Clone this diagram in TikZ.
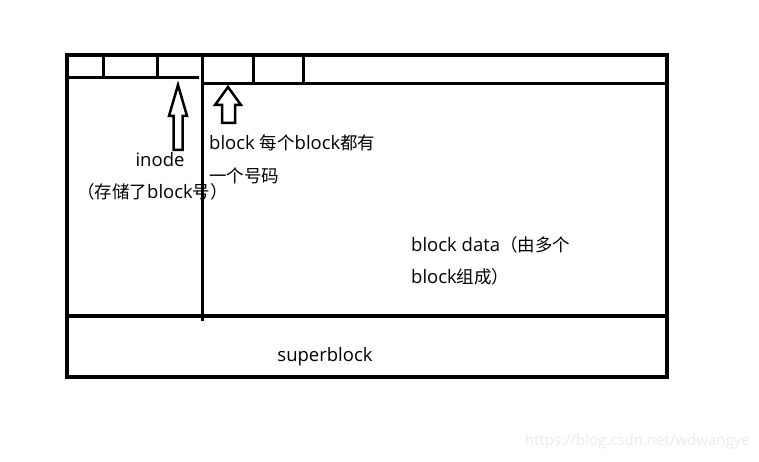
\documentclass[tikz,border=0pt]{standalone}
\usepackage{fontspec}
\setmainfont{Open Sans}
\newfontfamily\cjk{Noto Sans CJK SC}
\newcommand{\zh}[1]{{\cjk\fontsize{17.5}{20}\selectfont #1}}
\begin{document}
\begin{tikzpicture}[x=1pt,y=-1pt,
  outer/.style={line width=4pt},
  inner/.style={line width=3pt},
  hollow/.style={line width=2.5pt,line join=miter},
  lbl/.style={font=\fontsize{18.5}{20}\selectfont,inner sep=0pt,anchor=west}]
\useasboundingbox (0,0) rectangle (759,462);
% outer frame
\draw[outer] (67,55) rectangle (667,377);
\draw[outer] (67,316) -- (667,316);
% inode area
\draw[inner] (67,78) -- (199,78);
\draw[inner] (103,55) -- (103,78);
\draw[inner] (157,55) -- (157,78);
\draw[inner] (202,55) -- (202,321);
% block strip
\draw[inner] (202,84) -- (667,84);
\draw[inner] (253,55) -- (253,84);
\draw[inner] (303,55) -- (303,84);
% hollow arrows
\draw[hollow] (178,85) -- (187,116) -- (182.5,116) -- (182.5,150) -- (173.5,150) -- (173.5,116) -- (169,116) -- cycle;
\draw[hollow] (228,87) -- (241,105) -- (235,105) -- (235,123) -- (222,123) -- (222,105) -- (215,105) -- cycle;
% labels
\node[lbl,anchor=center] (inode) at (160,160) {inode};
\node[lbl] (inodenote) at (77,192) {\zh{（存储了}block\zh{号）}};
\node[lbl] (block1) at (209,143) {block \zh{每个}block\zh{都有}};
\node[lbl] (block2) at (209,176) {\zh{一个号码}};
\node[lbl] (data1) at (411,245) {block data\zh{（由多个}};
\node[lbl] (data2) at (411,277) {block\zh{组成）}};
\node[lbl,anchor=center] (super) at (325,357) {superblock};
\node[font=\fontsize{15}{16}\selectfont,text=black!8,inner sep=0pt,anchor=east] (wm) at (750,442) {https://blog.csdn.net/wdwangye};
\end{tikzpicture}
\end{document}
